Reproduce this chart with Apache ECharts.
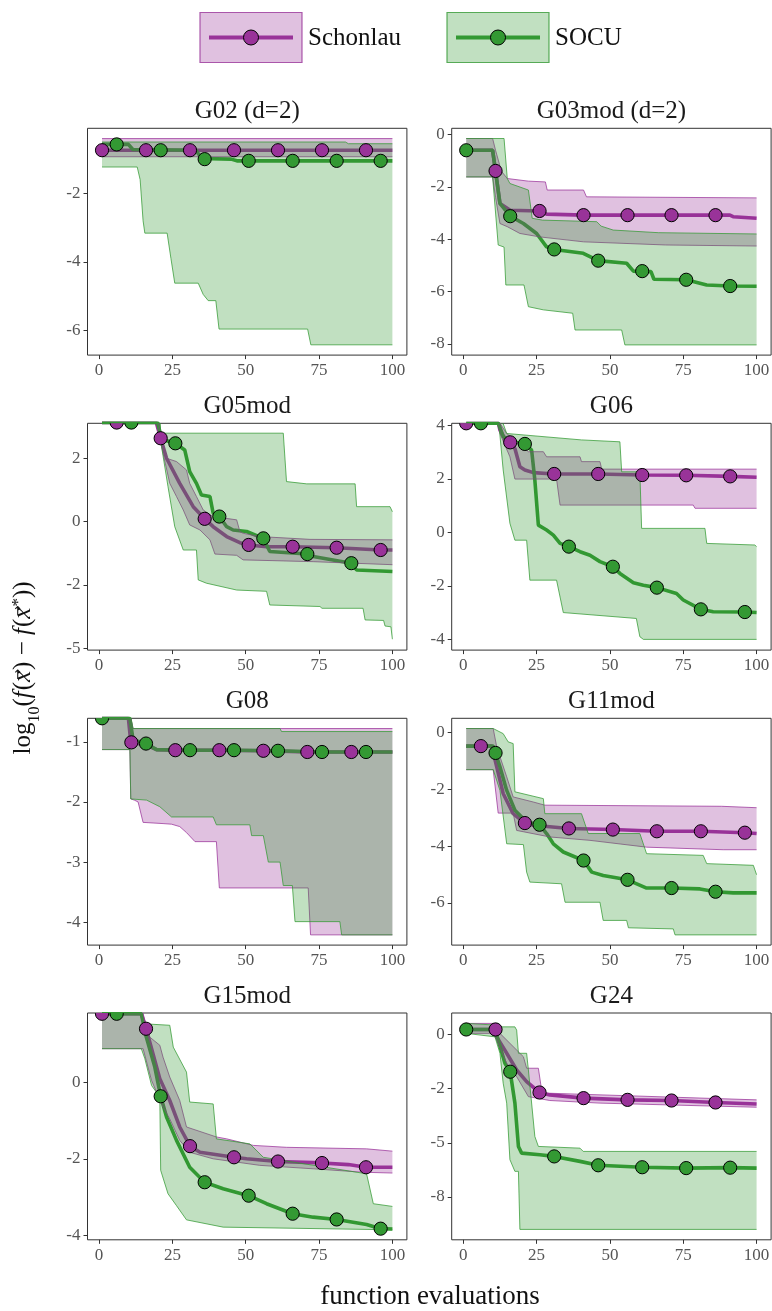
<!DOCTYPE html>
<html><head><meta charset="utf-8">
<script src="https://cdn.jsdelivr.net/npm/echarts@6/dist/echarts.min.js"></script>
<style>html,body{margin:0;padding:0;background:#fff}#c{width:772px;height:1311px}</style>
</head><body><div id="c"></div><script>
// ---------------- data ----------------
const panelTitles = ['G02 (d=2)', 'G03mod (d=2)', 'G05mod', 'G06', 'G08', 'G11mod', 'G15mod', 'G24'];
const seriesNames = ['Schonlau', 'SOCU'];
const xRange = [-3.95, 104.95];
const xTicks = [0, 25, 50, 75, 100];
const xTickLabels = ['0', '25', '50', '75', '100'];

// G02 (d=2)
const G02_yRange = [-6.72, -0.10];
const G02_yTicks = [-6, -4, -2];
const G02_yLabels = ['-6', '-4', '-2'];
const G02_schMed = [[1,-0.74],[100,-0.74]];
const G02_schLo = [[1,-0.93],[100,-0.93]];
const G02_schHi = [[1,-0.40],[100,-0.40]];
const G02_schPts = [[1,-0.74],[16,-0.74],[31,-0.74],[46,-0.74],[61,-0.74],[76,-0.74],[91,-0.74]];
const G02_socMed = [[1,-0.57],[10,-0.57],[11.5,-0.72],[33,-0.74],[35,-0.98],[45,-1.0],[47,-1.05],[100,-1.05]];
const G02_socLo = [[1,-1.23],[13,-1.23],[14,-1.6],[15,-2.8],[15.6,-3.16],[23.2,-3.16],[24.5,-3.9],[25.8,-4.62],[33.8,-4.62],[35.5,-4.95],[37.2,-5.13],[39.8,-5.13],[40.9,-5.96],[71.1,-5.96],[72.2,-6.42],[100,-6.42]];
const G02_socHi = [[1,-0.50],[84,-0.50],[85,-0.55],[100,-0.55]];
const G02_socPts = [[6,-0.57],[21,-0.74],[36,-1.0],[51,-1.05],[66,-1.05],[81,-1.05],[96,-1.05]];

// G03mod (d=2)
const G03_yRange = [-8.43, 0.24];
const G03_yTicks = [-8, -6, -4, -2, 0];
const G03_yLabels = ['-8', '-6', '-4', '-2', '0'];
const G03_schMed = [[1,-0.6],[10,-0.6],[11,-1.39],[12.5,-2.63],[16,-2.89],[26,-2.92],[28.4,-3.04],[41,-3.08],[90.9,-3.08],[92,-3.14],[100,-3.2]];
const G03_schLo = [[1,-1.62],[10,-1.62],[11,-2.4],[12.5,-3.4],[15,-3.52],[19.3,-3.78],[26,-3.91],[41,-4.10],[69,-4.22],[100,-4.26]];
const G03_schHi = [[1,-0.15],[10,-0.15],[11,-0.6],[13,-1.4],[15,-1.68],[22.2,-1.78],[28,-1.81],[28.6,-2.12],[41,-2.12],[42,-2.38],[100,-2.42]];
const G03_schPts = [[11,-1.39],[26,-2.92],[41,-3.08],[56,-3.08],[71,-3.08],[86,-3.08]];
const G03_socMed = [[1,-0.6],[10,-0.6],[12.5,-2.63],[16,-3.12],[20.5,-3.4],[25,-3.78],[28.4,-4.29],[31,-4.39],[40.9,-4.54],[46,-4.82],[55.7,-4.92],[58,-5.22],[64,-5.24],[65,-5.53],[76,-5.55],[83,-5.75],[91,-5.79],[100,-5.8]];
const G03_socLo = [[1,-1.62],[10,-1.62],[11.9,-4.22],[13.9,-4.3],[14.5,-5.75],[20.7,-5.75],[22.2,-6.58],[27.3,-6.70],[37.3,-6.83],[38.1,-7.47],[54,-7.47],[55.1,-8.04],[100,-8.04]];
const G03_socHi = [[1,-0.15],[13.9,-0.15],[15,-1.68],[15.9,-1.87],[22.2,-2.12],[23.5,-3.2],[27,-3.27],[45.5,-3.33],[47,-3.5],[51.1,-3.65],[66.5,-3.75],[100,-3.8]];
const G03_socPts = [[1,-0.6],[16,-3.12],[31,-4.39],[46,-4.82],[61,-5.22],[76,-5.55],[91,-5.79]];

// G05mod
const G05_yRange = [-5.07, 3.88];
const G05_yTicks = [-5, -2.5, 0, 2.5];
const G05_yLabels = ['-5', '-2', '0', '2'];
const G05_schMed = [[1,3.91],[19.5,3.91],[21,3.29],[23,2.5],[27.5,1.51],[32.1,0.59],[36,0.11],[38.9,-0.2],[43.5,-0.59],[48,-0.83],[51,-0.92],[57.1,-0.99],[66,-0.99],[81,-1.03],[96,-1.12],[100,-1.12]];
const G05_schLo = [[1,3.95],[20,3.95],[21.3,2.96],[24.1,1.51],[26.4,0.99],[28.7,0.46],[30.9,-0.13],[34.4,-0.33],[37.8,-0.72],[39.5,-1.28],[46.9,-1.33],[49.1,-1.51],[73,-1.58],[100,-1.7]];
const G05_schHi = [[1,4.3],[20,4.3],[21.3,3.09],[23,2.5],[26.4,2.37],[29.8,2.04],[30.9,1.51],[33.2,0.99],[35.5,0.46],[38.9,0.2],[46.9,0.07],[48,-0.39],[49.1,-0.46],[54.8,-0.59],[71.9,-0.70],[100,-0.72]];
const G05_schPts = [[6,3.91],[21,3.29],[36,0.11],[51,-0.92],[66,-0.99],[81,-1.03],[96,-1.12]];
const G05_socMed = [[1,3.91],[20,3.91],[21.3,3.25],[26,3.09],[29.2,2.83],[30.9,1.97],[33.2,1.51],[34.9,1.05],[37.8,0.99],[38.9,0.33],[41,0.2],[43.5,-0.2],[45.7,-0.33],[50.3,-0.39],[56,-0.66],[58.2,-1.18],[71,-1.28],[73,-1.38],[86,-1.64],[87.8,-1.91],[100,-1.97]];
const G05_socLo = [[1,3.95],[20,3.95],[21.3,2.96],[23.5,1.38],[25.8,-0.2],[28.7,-1.12],[33.2,-1.12],[33.8,-2.30],[36.6,-2.43],[46.9,-2.70],[57.1,-2.75],[58.2,-3.29],[75.3,-3.35],[76,-3.42],[90,-3.42],[90.7,-3.88],[97,-3.9],[97.5,-4.12],[99.5,-4.15],[100,-4.64]];
const G05_socHi = [[1,4.3],[20.7,4.3],[21,3.49],[62.8,3.49],[63.9,1.58],[70.8,1.49],[87.3,1.49],[87.8,0.59],[99.2,0.59],[100,0.39]];
const G05_socPts = [[11,3.91],[26,3.09],[41,0.2],[56,-0.66],[71,-1.28],[86,-1.64]];

// G06
const G06_yRange = [-4.39, 4.07];
const G06_yTicks = [-4, -2, 0, 2, 4];
const G06_yLabels = ['-4', '-2', '0', '2', '4'];
const G06_schMed = [[1,4.07],[12,4.07],[12.5,3.82],[14.8,3.38],[16,3.36],[17.6,3.13],[19.3,2.45],[21,2.33],[23.9,2.23],[31,2.18],[46,2.18],[61,2.14],[76,2.13],[91,2.09],[100,2.06]];
const G06_schLo = [[1,4.2],[12,4.2],[12.5,3.69],[15.9,2.82],[17.6,1.99],[31.8,1.99],[33,1.02],[78.4,1.02],[79,0.9],[100,0.9]];
const G06_schHi = [[1,4.4],[12,4.4],[12.5,4.07],[14.8,3.69],[22.2,3.01],[27.3,3.01],[28.4,2.82],[39.8,2.82],[40.3,2.64],[46.6,2.64],[47.2,2.36],[100,2.36]];
const G06_schPts = [[1,4.07],[16,3.36],[31,2.18],[46,2.18],[61,2.14],[76,2.13],[91,2.09]];
const G06_socMed = [[1,4.07],[12,4.07],[13.6,3.57],[17,3.38],[21,3.30],[23.3,3.07],[24.4,1.95],[25.6,0.27],[28.4,0.09],[30.7,-0.1],[33,-0.41],[36,-0.53],[39.8,-0.72],[43.2,-0.85],[46.6,-1.09],[51,-1.28],[53.4,-1.53],[58,-1.88],[61.4,-1.97],[66,-2.06],[72.7,-2.28],[75,-2.52],[81,-2.87],[85.2,-2.96],[96,-2.97],[100,-2.99]];
const G06_socLo = [[1,4.2],[12,4.2],[13.6,2.33],[15.9,0.34],[17.6,-0.29],[21.6,-0.29],[22.7,-1.78],[31.8,-1.78],[34.1,-2.99],[59,-3.21],[60.2,-3.89],[61.4,-3.99],[100,-3.99]];
const G06_socHi = [[1,4.4],[12.5,4.4],[14.8,3.69],[40.3,3.45],[53.4,3.38],[54,2.26],[60.2,2.26],[60.8,0.15],[82.4,0.15],[83,-0.41],[99.4,-0.47],[100,-0.53]];
const G06_socPts = [[6,4.07],[21,3.30],[36,-0.53],[51,-1.28],[66,-2.06],[81,-2.87],[96,-2.97]];

// G08
const G08_yRange = [-4.38, -0.61];
const G08_yTicks = [-4, -3, -2, -1];
const G08_yLabels = ['-4', '-3', '-2', '-1'];
const G08_schMed = [[1,-0.61],[10,-0.61],[10.8,-1.0],[11,-1.01],[16.2,-1.06],[19.6,-1.13],[26,-1.14],[41,-1.14],[56,-1.15],[71,-1.17],[100,-1.17]];
const G08_schLo = [[1,-1.13],[10.5,-1.13],[10.8,-1.95],[12,-1.97],[13.3,-2.0],[15,-2.34],[21.8,-2.36],[24.7,-2.37],[27.5,-2.41],[29.8,-2.51],[32.7,-2.66],[40,-2.66],[41,-3.43],[71.3,-3.43],[72.1,-4.21],[100,-4.21]];
const G08_schHi = [[1,-0.55],[10.5,-0.55],[11.6,-0.78],[100,-0.78]];
const G08_schPts = [[11,-1.01],[26,-1.14],[41,-1.14],[56,-1.15],[71,-1.17],[86,-1.17]];
const G08_socMed = [[1,-0.61],[10.5,-0.61],[11.6,-0.97],[16,-1.03],[19.6,-1.13],[31,-1.14],[46,-1.14],[61,-1.15],[76,-1.17],[100,-1.17]];
const G08_socLo = [[1,-1.13],[10.5,-1.13],[10.8,-1.95],[16.2,-1.97],[20.7,-2.08],[24.7,-2.25],[38.9,-2.25],[40,-2.38],[51.4,-2.38],[52,-2.56],[56,-2.56],[57.7,-3.0],[61.7,-3.0],[62.8,-3.39],[65.9,-3.39],[66.8,-3.99],[82.1,-3.99],[82.7,-4.21],[100,-4.21]];
const G08_socHi = [[1,-0.55],[10.5,-0.55],[11.6,-0.78],[61.7,-0.78],[62.2,-0.83],[100,-0.83]];
const G08_socPts = [[1,-0.61],[16,-1.03],[31,-1.14],[46,-1.14],[61,-1.15],[76,-1.17],[91,-1.17]];

// G11mod
const G11_yRange = [-7.49, 0.50];
const G11_yTicks = [-6, -4, -2, 0];
const G11_yLabels = ['-6', '-4', '-2', '0'];
const G11_schMed = [[1,-0.48],[9.7,-0.48],[11.4,-1.21],[13.6,-2.15],[17,-2.86],[21,-3.19],[23.9,-3.27],[36,-3.38],[51,-3.42],[66,-3.48],[81,-3.48],[96,-3.53],[100,-3.56]];
const G11_schLo = [[1,-1.31],[10.2,-1.31],[11.9,-2.84],[17,-2.84],[18.2,-3.45],[29.5,-3.68],[43.2,-3.80],[62.5,-4.04],[88.6,-4.13],[100,-4.13]];
const G11_schHi = [[1,0.14],[10.2,0.14],[11.4,-0.51],[14.8,-1.56],[17,-2.27],[23.9,-2.45],[27.8,-2.56],[88,-2.6],[100,-2.65]];
const G11_schPts = [[6,-0.48],[21,-3.19],[36,-3.38],[51,-3.42],[66,-3.48],[81,-3.48],[96,-3.53]];
const G11_socMed = [[1,-0.48],[10.2,-0.48],[11,-0.72],[12.5,-1.21],[14.8,-2.04],[17.6,-2.74],[21.6,-3.15],[26,-3.25],[28.4,-3.56],[30.7,-3.92],[34.1,-4.21],[41,-4.51],[43.8,-4.92],[47.7,-5.04],[56,-5.19],[62.5,-5.48],[71,-5.48],[80.7,-5.51],[86,-5.61],[92,-5.65],[100,-5.65]];
const G11_socLo = [[1,-1.31],[10.2,-1.31],[12.5,-2.04],[14.8,-3.92],[20.5,-3.95],[21.6,-4.92],[22.7,-5.27],[33.5,-5.33],[34.7,-5.98],[46.6,-5.98],[47.7,-6.62],[55.7,-6.62],[56.3,-6.88],[71.6,-6.92],[72.2,-7.13],[100,-7.13]];
const G11_socHi = [[1,0.14],[10.2,0.14],[13.6,-0.04],[15.3,-0.33],[17,-0.39],[17.6,-2.09],[27.3,-2.33],[27.8,-2.86],[40.3,-2.86],[42.6,-3.56],[60.2,-3.56],[62.5,-4.27],[81.8,-4.33],[83,-4.62],[98.9,-4.68],[100,-5.01]];
const G11_socPts = [[11,-0.72],[26,-3.25],[41,-4.51],[56,-5.19],[71,-5.48],[86,-5.61]];

// G15mod
const G15_yRange = [-4.11, 1.80];
const G15_yTicks = [-4, -2, 0];
const G15_yLabels = ['-4', '-2', '0'];
const G15_schMed = [[1,1.78],[14.4,1.78],[16,1.39],[17.3,1.04],[20.7,0.09],[24.1,-0.48],[27.5,-1.17],[31,-1.67],[34.4,-1.83],[46,-1.96],[50.3,-2.0],[61,-2.07],[73,-2.1],[76,-2.11],[85,-2.15],[91,-2.22],[100,-2.22]];
const G15_schLo = [[1,0.87],[15,0.87],[17.9,0.04],[21.8,-0.65],[24.1,-0.96],[27.5,-1.52],[30.9,-1.83],[38.9,-2.0],[54.8,-2.17],[73,-2.26],[90.1,-2.35],[100,-2.37]];
const G15_schHi = [[1,2.2],[14.4,2.2],[15,1.78],[17.3,1.17],[20.7,0.96],[21.8,0.65],[24.1,0.13],[27.5,-0.48],[29.8,-1.17],[40,-1.43],[43.5,-1.48],[52.6,-1.65],[63.9,-1.70],[91.2,-1.74],[100,-1.80]];
const G15_schPts = [[1,1.78],[16,1.39],[31,-1.67],[46,-1.96],[61,-2.07],[76,-2.11],[91,-2.22]];
const G15_socMed = [[1,1.78],[14.4,1.78],[16,1.2],[19,0.39],[21,-0.37],[23,-0.91],[26.4,-1.52],[30.9,-2.22],[36,-2.61],[42.3,-2.78],[51,-2.96],[57.1,-3.17],[66,-3.43],[73,-3.52],[81,-3.58],[91.2,-3.71],[96,-3.82],[100,-3.83]];
const G15_socLo = [[1,0.87],[14.4,0.87],[15.6,0.61],[17.9,-0.09],[20.7,-0.39],[21,-2.3],[23.5,-2.91],[26.4,-3.22],[29.8,-3.59],[42.3,-3.78],[100,-3.85]];
const G15_socHi = [[1,2.2],[14.4,2.2],[15,1.52],[24.1,1.48],[25.3,0.91],[29.8,0.26],[30.9,-0.52],[38.9,-0.57],[40,-1.48],[51.4,-1.61],[56,-1.96],[91.2,-2.39],[93.5,-3.17],[100,-3.24]];
const G15_socPts = [[6,1.78],[21,-0.37],[36,-2.61],[51,-2.96],[66,-3.43],[81,-3.58],[96,-3.82]];

// G24
const G24_yRange = [-9.48, 0.99];
const G24_yTicks = [-7.5, -5, -2.5, 0];
const G24_yLabels = ['-8', '-5', '-2', '0'];
const G24_schMed = [[1,0.23],[11,0.23],[11.4,-0.11],[14.8,-0.87],[18.2,-1.64],[21.6,-2.18],[26,-2.68],[29.5,-2.79],[41,-2.94],[56,-3.02],[71,-3.05],[86,-3.14],[100,-3.21]];
const G24_schLo = [[1,0.05],[10.2,0.05],[11.4,-0.26],[14.8,-1.33],[18.2,-1.95],[22.2,-2.87],[29.5,-3.05],[46.6,-3.17],[100,-3.36]];
const G24_schHi = [[1,0.51],[10.2,0.51],[12.5,0.05],[15.9,-0.41],[20.5,-1.03],[21.6,-1.56],[25.6,-1.56],[26.7,-2.56],[28.4,-2.71],[100,-3.02]];
const G24_schPts = [[11,0.23],[26,-2.68],[41,-2.94],[56,-3.02],[71,-3.05],[86,-3.14]];
const G24_socMed = [[1,0.23],[10.8,0.23],[11.9,-0.26],[14.2,-1.33],[16,-1.72],[17.6,-3.17],[18.8,-5.17],[19.9,-5.48],[26.1,-5.55],[31,-5.63],[39.8,-5.86],[46,-6.04],[61,-6.13],[76,-6.17],[91,-6.15],[100,-6.17]];
const G24_socLo = [[1,0.05],[10.8,-0.11],[12.5,-0.87],[13.6,-2.25],[14.8,-3.17],[15.9,-5.78],[17.6,-6.32],[18.8,-6.32],[19.3,-9.0],[100,-9.0]];
const G24_socHi = [[1,0.51],[11.4,0.43],[12.5,0.35],[17.6,0.35],[18.2,0.2],[18.8,-0.87],[21.6,-0.87],[22.2,-1.64],[24.4,-4.71],[25.6,-5.17],[39.8,-5.25],[40.9,-5.40],[100,-5.40]];
const G24_socPts = [[1,0.23],[16,-1.72],[31,-5.63],[46,-6.04],[61,-6.13],[76,-6.17],[91,-6.15]];

// ---------------- assembly ----------------
const panels = [
  [G02_yRange, G02_yTicks, G02_yLabels, G02_schMed, G02_schLo, G02_schHi, G02_schPts, G02_socMed, G02_socLo, G02_socHi, G02_socPts],
  [G03_yRange, G03_yTicks, G03_yLabels, G03_schMed, G03_schLo, G03_schHi, G03_schPts, G03_socMed, G03_socLo, G03_socHi, G03_socPts],
  [G05_yRange, G05_yTicks, G05_yLabels, G05_schMed, G05_schLo, G05_schHi, G05_schPts, G05_socMed, G05_socLo, G05_socHi, G05_socPts],
  [G06_yRange, G06_yTicks, G06_yLabels, G06_schMed, G06_schLo, G06_schHi, G06_schPts, G06_socMed, G06_socLo, G06_socHi, G06_socPts],
  [G08_yRange, G08_yTicks, G08_yLabels, G08_schMed, G08_schLo, G08_schHi, G08_schPts, G08_socMed, G08_socLo, G08_socHi, G08_socPts],
  [G11_yRange, G11_yTicks, G11_yLabels, G11_schMed, G11_schLo, G11_schHi, G11_schPts, G11_socMed, G11_socLo, G11_socHi, G11_socPts],
  [G15_yRange, G15_yTicks, G15_yLabels, G15_schMed, G15_schLo, G15_schHi, G15_schPts, G15_socMed, G15_socLo, G15_socHi, G15_socPts],
  [G24_yRange, G24_yTicks, G24_yLabels, G24_schMed, G24_schLo, G24_schHi, G24_schPts, G24_socMed, G24_socLo, G24_socHi, G24_socPts]
];

const FONT = "'Liberation Serif', 'DejaVu Serif', serif";
const PURPLE = '#993399', GREEN = '#339933';
const COLS = [87.5, 451.7], GW = 319.4;
const ROWS = [128.3, 423.3, 718.3, 1013], GH = 226.8;

function bandSeries(idx, lo, hi, color, z) {
  return {
    type: 'custom', xAxisIndex: idx, yAxisIndex: idx, z: z, clip: true, silent: true,
    data: [hi[0]], encode: {x: 0, y: 1},
    renderItem: function (params, api) {
      const up = hi.map(p => api.coord(p));
      const dn = lo.map(p => api.coord(p));
      const poly = up.concat(dn.slice().reverse());
      return {type: 'group', children: [
        {type: 'polygon', shape: {points: poly}, style: {fill: color, opacity: 0.3}},
        {type: 'polyline', shape: {points: up}, style: {stroke: color, lineWidth: 1, fill: null, opacity: 0.75}},
        {type: 'polyline', shape: {points: dn}, style: {stroke: color, lineWidth: 1, fill: null, opacity: 0.75}}
      ]};
    }
  };
}
function ptsSeries(idx, pts, color, z) {
  return {
    type: 'custom', xAxisIndex: idx, yAxisIndex: idx, z: z, clip: true, silent: true,
    data: pts, encode: {x: 0, y: 1},
    renderItem: function (params, api) {
      const c = api.coord([api.value(0), api.value(1)]);
      return {type: 'circle', shape: {cx: c[0], cy: c[1], r: 6.6}, style: {fill: color, stroke: '#000', lineWidth: 1}};
    }
  };
}
function medSeries(idx, med, color) {
  return {type: 'line', xAxisIndex: idx, yAxisIndex: idx, data: med, symbol: 'none', z: 2, silent: true,
    clip: true, lineStyle: {color: color, width: 3.6}, itemStyle: {color: color}};
}

const grids = [], xAxes = [], yAxes = [], series = [], graphics = [];
panels.forEach((p, i) => {
  const [yR, yT, yL, sMed, sLo, sHi, sPts, cMed, cLo, cHi, cPts] = p;
  const col = i % 2, row = Math.floor(i / 2);
  grids.push({left: COLS[col], top: ROWS[row], width: GW, height: GH, show: true,
    borderColor: '#333', borderWidth: 1, backgroundColor: 'transparent', containLabel: false, outerBoundsMode: 'none'});
  xAxes.push({gridIndex: i, type: 'value', min: xRange[0], max: xRange[1], position: 'bottom',
    axisLine: {show: false, onZero: false}, splitLine: {show: false},
    axisTick: {show: true, inside: false, customValues: xTicks, length: 4, lineStyle: {color: '#333'}},
    axisLabel: {customValues: xTicks, formatter: v => xTickLabels[xTicks.indexOf(v)],
      color: '#555', fontSize: 17, fontFamily: FONT, margin: 7}});
  yAxes.push({gridIndex: i, type: 'value', min: yR[0], max: yR[1], position: 'left',
    axisLine: {show: false, onZero: false}, splitLine: {show: false},
    axisTick: {show: true, inside: false, customValues: yT, length: 4, lineStyle: {color: '#333'}},
    axisLabel: {customValues: yT, formatter: v => yL[yT.findIndex(t => Math.abs(t - v) < 1e-9)],
      color: '#555', fontSize: 17, fontFamily: FONT, margin: 7}});
  series.push(medSeries(i, sMed, PURPLE));
  series.push(medSeries(i, cMed, GREEN));
  series.push(bandSeries(i, sLo, sHi, PURPLE, 3));
  series.push(bandSeries(i, cLo, cHi, GREEN, 4));
  series.push(ptsSeries(i, sPts, PURPLE, 6));
  series.push(ptsSeries(i, cPts, GREEN, 7));
  graphics.push({type: 'text', x: COLS[col] + GW / 2, y: ROWS[row] - 17, silent: true,
    style: {text: panelTitles[i], fontSize: 25, fontFamily: FONT, fill: '#1a1a1a',
      textAlign: 'center', align: 'center', textVerticalAlign: 'middle', verticalAlign: 'middle'}});
});

// legend
const legendBoxes = [[200, 12.5], [447, 12.5]];
const legendColors = [PURPLE, GREEN];
seriesNames.forEach((name, k) => {
  const [bx, by] = legendBoxes[k];
  const c = legendColors[k];
  graphics.push({type: 'rect', silent: true, shape: {x: bx, y: by, width: 102, height: 50},
    style: {fill: c, opacity: 0.3}});
  graphics.push({type: 'rect', silent: true, shape: {x: bx, y: by, width: 102, height: 50},
    style: {fill: null, stroke: c, lineWidth: 1.2, opacity: 0.8}});
  graphics.push({type: 'line', silent: true, shape: {x1: bx + 9, y1: by + 25, x2: bx + 93, y2: by + 25},
    style: {stroke: c, lineWidth: 4}});
  graphics.push({type: 'circle', silent: true, shape: {cx: bx + 51, cy: by + 25, r: 7.5},
    style: {fill: c, stroke: '#000', lineWidth: 1}});
  graphics.push({type: 'text', silent: true, x: bx + 108, y: by + 26,
    style: {text: name, fontSize: 25, fontFamily: FONT, fill: '#111',
      textAlign: 'left', align: 'left', textVerticalAlign: 'middle', verticalAlign: 'middle'}});
});

// x-axis title
graphics.push({type: 'text', silent: true, x: 430, y: 1297,
  style: {text: 'function evaluations', fontSize: 27, fontFamily: FONT, fill: '#111',
    textAlign: 'center', align: 'center', textVerticalAlign: 'middle', verticalAlign: 'middle'}});

// y-axis title: log10(f(x) - f(x*)) with vector arrows, built from pieces in a rotated group
const yTitleParts = [
  // text, size, italic, baseline shift (down +), arrow above
  ['log', 25, false, 0, false], ['10', 16, false, 7, false], ['(', 25, false, 0, false],
  ['f', 25, true, 0, false], ['(', 25, false, 0, false], ['x', 25, true, 0, true], [')', 25, false, 0, false],
  [' \u2212 ', 25, false, 0, false], ['f', 25, true, 0, false], ['(', 25, false, 0, false],
  ['x', 25, true, 0, true], ['*', 17, false, -9, false], ['))', 25, false, 0, false]
];
(function () {
  const ctx = document.createElement('canvas').getContext('2d');
  const pieces = [];
  let cursor = 0;
  yTitleParts.forEach(([t, s, it, dy, arrow]) => {
    ctx.font = (it ? 'italic ' : '') + s + 'px ' + FONT;
    const w = ctx.measureText(t).width;
    pieces.push({t, s, it, dy, arrow, x: cursor, w});
    cursor += w + (it ? 1 : 0);
  });
  const total = cursor;
  const children = [];
  pieces.forEach(pc => {
    children.push({type: 'text', x: pc.x - total / 2, y: pc.dy, silent: true,
      style: {text: pc.t, fontSize: pc.s, fontFamily: FONT, fontStyle: pc.it ? 'italic' : 'normal', fill: '#111',
        textAlign: 'left', align: 'left', textVerticalAlign: 'bottom', verticalAlign: 'bottom'}});
    if (pc.arrow) {
      children.push({type: 'text', x: pc.x - total / 2 + pc.w / 2 + 2, y: -11, silent: true,
        style: {text: '\u2192', fontSize: 13, fontFamily: "'DejaVu Sans', sans-serif", fill: '#111',
          textAlign: 'center', align: 'center', textVerticalAlign: 'bottom', verticalAlign: 'bottom'}});
    }
  });
  graphics.push({type: 'group', x: 36, y: 668, rotation: Math.PI / 2, silent: true, children: children});
})();

const chart = echarts.init(document.getElementById('c'), null, {renderer: 'canvas', width: 772, height: 1311});
chart.setOption({
  animation: false,
  backgroundColor: '#fff',
  grid: grids, xAxis: xAxes, yAxis: yAxes, series: series, graphic: graphics
});
</script></body></html>
